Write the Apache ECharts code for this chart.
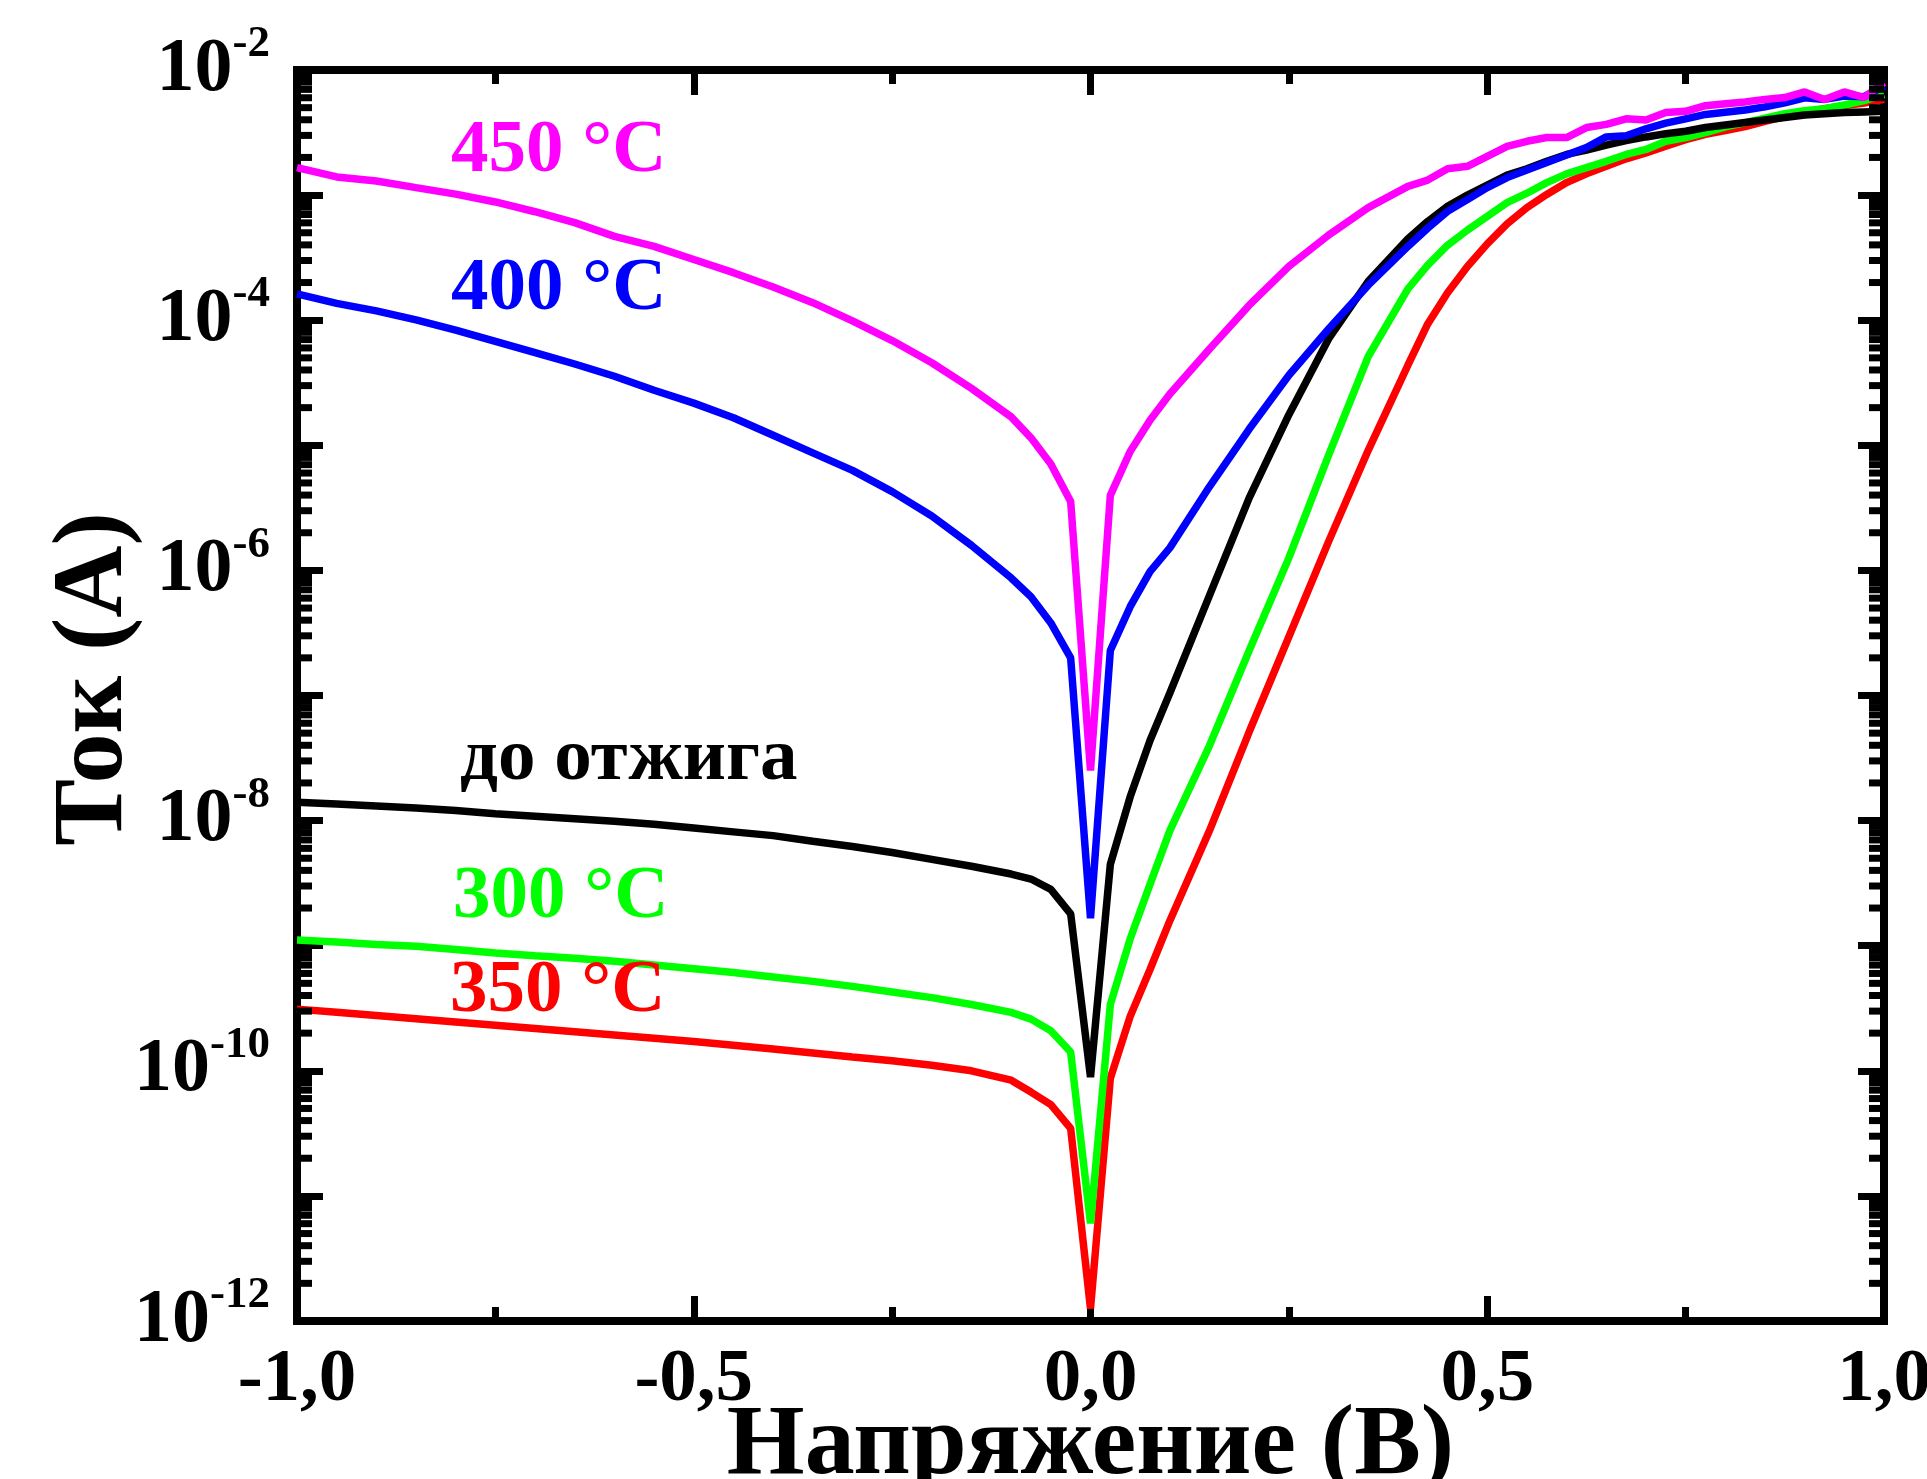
<!DOCTYPE html>
<html>
<head>
<meta charset="utf-8">
<title>ВАХ при разных температурах отжига</title>
<script src="https://cdn.jsdelivr.net/npm/echarts@6/dist/echarts.min.js"></script>
<style>
  html, body { margin: 0; padding: 0; background: #fff; }
  #chart { width: 1927px; height: 1479px; }
</style>
</head>
<body>
<div id="chart"></div>
<script>
// напряжение, В — общая сетка точек для всех кривых
const voltage = [
  -1, -0.95, -0.9, -0.85, -0.8, -0.75, -0.7, -0.65, -0.6, -0.55,
  -0.5, -0.45, -0.4, -0.35, -0.3, -0.25, -0.2, -0.15, -0.1, -0.075,
  -0.05, -0.025, 0, 0.025, 0.05, 0.075, 0.1, 0.15, 0.2, 0.25,
  0.3, 0.35, 0.4, 0.425, 0.45, 0.475, 0.5, 0.525, 0.55, 0.575,
  0.6, 0.625, 0.65, 0.675, 0.7, 0.725, 0.75, 0.775, 0.8, 0.825,
  0.85, 0.875, 0.9, 0.925, 0.95, 0.975, 1
]

// lg I (I в амперах)
const lgBefore = [
  -7.853, -7.868, -7.884, -7.9, -7.92, -7.945, -7.965, -7.985, -8.005, -8.03,
  -8.06, -8.09, -8.12, -8.165, -8.207, -8.255, -8.31, -8.365, -8.427, -8.467,
  -8.55, -8.745, -10.05, -8.35, -7.81, -7.36, -6.98, -6.2, -5.42, -4.755,
  -4.15, -3.69, -3.35, -3.21, -3.09, -3.0, -2.92, -2.84, -2.79, -2.73,
  -2.675, -2.64, -2.6, -2.565, -2.535, -2.51, -2.49, -2.46, -2.44, -2.42,
  -2.4, -2.38, -2.36, -2.35, -2.34, -2.335, -2.33
]
const lg300 = [
  -8.955, -8.97, -8.99, -9.005, -9.03, -9.058, -9.08, -9.1, -9.125, -9.155,
  -9.185, -9.215, -9.25, -9.285, -9.325, -9.37, -9.415, -9.47, -9.533, -9.587,
  -9.68, -9.85, -11.22, -9.47, -8.945, -8.51, -8.08, -7.4, -6.64, -5.9,
  -5.08, -4.29, -3.75, -3.56, -3.4, -3.28, -3.17, -3.06, -2.985, -2.9,
  -2.83, -2.78, -2.73, -2.675, -2.635, -2.57, -2.54, -2.5, -2.455, -2.42,
  -2.385, -2.35, -2.325, -2.31, -2.28, -2.245, -2.195
]
const lg350 = [
  -9.507, -9.532, -9.558, -9.584, -9.61, -9.636, -9.662, -9.688, -9.714, -9.74,
  -9.766, -9.795, -9.826, -9.857, -9.889, -9.92, -9.955, -10.0, -10.075, -10.17,
  -10.27, -10.46, -11.9, -10.06, -9.565, -9.19, -8.8, -8.08, -7.29, -6.53,
  -5.77, -5.04, -4.36, -4.03, -3.78, -3.57, -3.39, -3.23, -3.1, -2.995,
  -2.9, -2.83, -2.77, -2.71, -2.662, -2.61, -2.557, -2.515, -2.485, -2.452,
  -2.41, -2.372, -2.335, -2.31, -2.285, -2.265, -2.235
]
const lg400 = [
  -3.79, -3.865, -3.925, -3.998, -4.08, -4.17, -4.26, -4.35, -4.448, -4.56,
  -4.663, -4.78, -4.92, -5.06, -5.2, -5.37, -5.565, -5.8, -6.06, -6.21,
  -6.42, -6.7, -8.78, -6.64, -6.29, -6.01, -5.82, -5.33, -4.87, -4.44,
  -4.07, -3.72, -3.41, -3.264, -3.13, -3.036, -2.94, -2.86, -2.8, -2.74,
  -2.68, -2.62, -2.535, -2.525, -2.47, -2.425, -2.39, -2.355, -2.337, -2.32,
  -2.295, -2.262, -2.222, -2.235, -2.208, -2.213, -2.13
]
const lg450 = [
  -2.78, -2.855, -2.887, -2.94, -2.992, -3.055, -3.133, -3.22, -3.33, -3.41,
  -3.515, -3.62, -3.735, -3.86, -4.005, -4.163, -4.34, -4.545, -4.773, -4.94,
  -5.15, -5.45, -7.6, -5.4, -5.05, -4.8, -4.59, -4.23, -3.88, -3.57,
  -3.32, -3.1, -2.93, -2.88, -2.79, -2.77, -2.69, -2.61, -2.57, -2.54,
  -2.54, -2.46, -2.435, -2.39, -2.4, -2.34, -2.33, -2.285, -2.27, -2.255,
  -2.235, -2.22, -2.175, -2.235, -2.175, -2.22, -2.1
]

const curveNames = ['350 °C', '300 °C', 'до отжига', '400 °C', '450 °C']
const curveColors = ['#ff0000', '#00ff00', '#000000', '#0000ff', '#ff00ff']
const curveData = [lg350, lg300, lgBefore, lg400, lg450]

// подписи кривых внутри поля графика
const tagTexts = ['450 °C', '400 °C', 'до отжига', '300 °C', '350 °C']
const tagColors = ['#ff00ff', '#0000ff', '#000000', '#00ff00', '#ff0000']
const tagLeft = [451, 451, 460, 453, 450]
const tagMid = [152, 290, 760, 898, 992]

// оси
const yLabelExponents = [-12, -10, -8, -6, -4, -2]
const minorDecades = [-12, -11, -10, -9, -8, -7, -6, -5, -4, -3]
const minorMantissas = [2, 3, 4, 5, 6, 7, 8, 9]

const serif = '"Liberation Serif", "Times New Roman", serif'

const minorTickValues = []
minorDecades.forEach((e) => minorMantissas.forEach((m) => minorTickValues.push(m * Math.pow(10, e))))

const chart = echarts.init(document.getElementById('chart'))

const frameLine = { show: true, onZero: false, lineStyle: { color: '#000', width: 8, cap: 'square' } }
const xTicks = { show: true, inside: true, length: 25, lineStyle: { color: '#000', width: 7 } }
const xMinor = { show: true, splitNumber: 2, length: 14, lineStyle: { color: '#000', width: 7 } }
const yTicks = { show: true, inside: true, length: 26, lineStyle: { color: '#000', width: 7 } }

const xBase = {
  type: 'value',
  min: -1,
  max: 1,
  interval: 0.5,
  axisLine: frameLine,
  axisTick: xTicks,
  minorTick: xMinor,
  splitLine: { show: false },
}

const yBase = {
  type: 'log',
  logBase: 10,
  min: 1e-12,
  max: 1e-2,
  interval: 1,
  splitNumber: 10,
  axisLine: frameLine,
  axisTick: yTicks,
  splitLine: { show: false },
  minorTick: { show: false },
}

const lineSeries = curveData.map((lg, k) => ({
  name: curveNames[k],
  type: 'line',
  data: voltage.map((v, i) => [v, Math.pow(10, lg[i])]),
  showSymbol: false,
  symbol: 'none',
  lineStyle: { color: curveColors[k], width: 7.5, join: 'bevel' },
  z: 3 + k,
}))

const minorTickSeries = {
  type: 'custom',
  silent: true,
  clip: false,
  z: 10,
  data: minorTickValues.map((v) => [-1, v]),
  encode: { x: 0, y: 1 },
  renderItem: (params, api) => {
    const v = api.value(1)
    const l = api.coord([-1, v])
    const r = api.coord([1, v])
    const st = { stroke: '#000', lineWidth: 7 }
    return {
      type: 'group',
      children: [
        { type: 'line', shape: { x1: l[0], y1: l[1], x2: l[0] + 15, y2: l[1] }, style: st },
        { type: 'line', shape: { x1: r[0] - 15, y1: r[1], x2: r[0], y2: r[1] }, style: st },
      ],
    }
  },
}

const option = {
  animation: false,
  backgroundColor: '#ffffff',
  grid: { left: 297, right: 43, top: 70, bottom: 158, containLabel: false, outerBoundsMode: 'none' },
  xAxis: [
    {
      ...xBase,
      position: 'bottom',
      name: 'Напряжение (В)',
      nameLocation: 'middle',
      nameGap: 76,
      nameMoveOverlap: false,
      nameTextStyle: { fontFamily: serif, fontWeight: 'bold', fontSize: 100, color: '#000' },
      axisLabel: {
        margin: 22,
        fontFamily: serif,
        fontWeight: 'bold',
        fontSize: 75,
        color: '#000',
        formatter: (v) => v.toFixed(1).replace('.', ','),
      },
    },
    { ...xBase, position: 'top', axisLabel: { show: false } },
  ],
  yAxis: [
    {
      ...yBase,
      position: 'left',
      name: 'Ток (А)',
      nameLocation: 'middle',
      nameGap: 152,
      nameMoveOverlap: false,
      nameTextStyle: {
        fontFamily: serif,
        fontWeight: 'bold',
        fontSize: 100,
        color: '#000',
        padding: [0, 0, 0, 33],
      },
      axisLabel: {
        margin: 27,
        color: '#000',
        formatter: (v) => {
          const e = Math.round(Math.log10(v))
          return yLabelExponents.includes(e) ? `{b|10}{s|${e}}` : ''
        },
        rich: {
          b: { fontFamily: serif, fontWeight: 'bold', fontSize: 76, lineHeight: 96, color: '#000' },
          s: { fontFamily: serif, fontWeight: 'bold', fontSize: 45, lineHeight: 45, verticalAlign: 'top', color: '#000' },
        },
      },
    },
    { ...yBase, position: 'right', axisLabel: { show: false } },
  ],
  graphic: tagTexts.map((t, i) => ({
    type: 'text',
    x: tagLeft[i],
    y: tagMid[i],
    z: 20,
    style: {
      text: t,
      fill: tagColors[i],
      font: `bold 75px ${serif}`,
      align: 'left',
      verticalAlign: 'middle',
    },
  })),
  series: [...lineSeries, minorTickSeries],
}

chart.setOption(option)
window.addEventListener('resize', () => chart.resize())
</script>
</body>
</html>
